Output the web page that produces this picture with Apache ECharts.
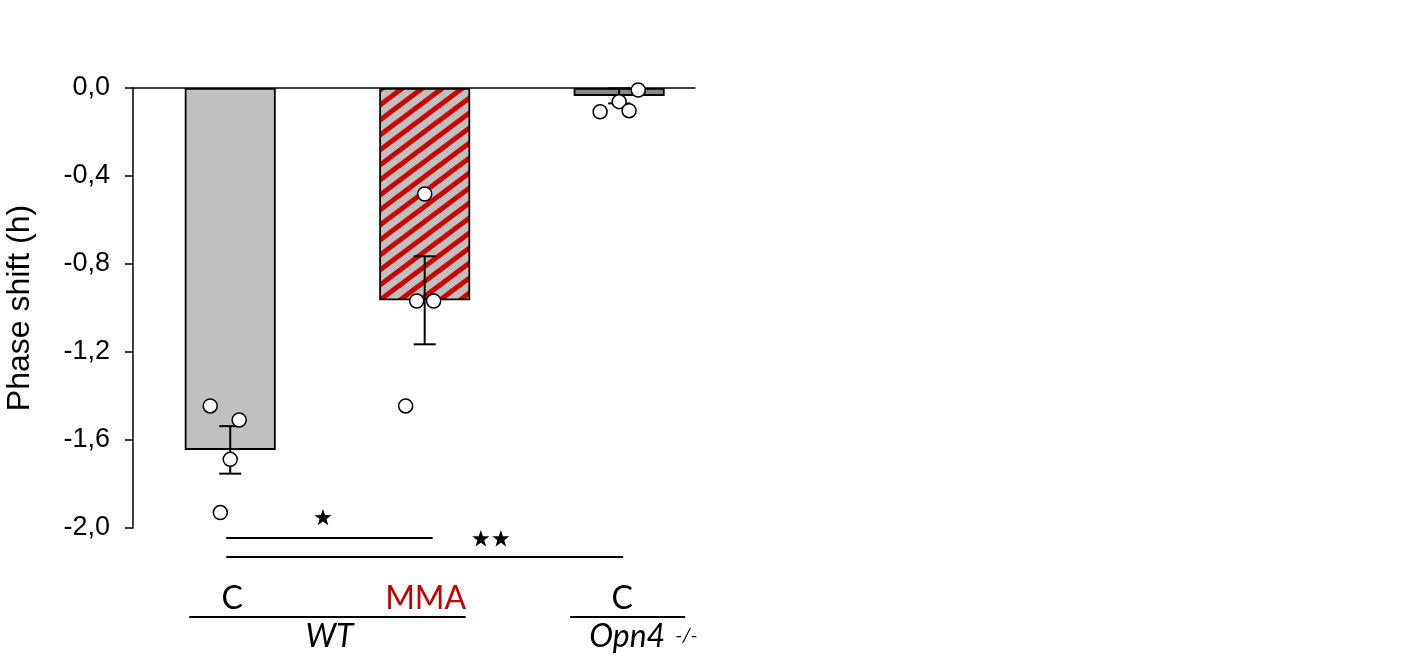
<!DOCTYPE html>
<html><head><meta charset="utf-8">
<script src="https://cdn.jsdelivr.net/npm/echarts@6/dist/echarts.min.js"></script>
<style>html,body{margin:0;padding:0;background:#fff}#c{width:1416px;height:660px}</style>
</head><body><div id="c"></div>
<script>
// ---------- data ----------
const groupLabels = ['C', 'MMA', 'C'];
const genotypeLabels = ['WT', 'Opn4'];
const genotypeSup = '-/-';
const groupX = [1, 2, 3];
const meanShift = [-1.645, -0.965, -0.036];
const semShift = [0.108, 0.200, 0.034];
const pointsWT_C = [-1.445, -1.509, -1.688, -1.930];
const pointsWT_MMA = [-0.482, -0.968, -0.968, -1.445];
const pointsOpn4_C = [-0.009, -0.062, -0.108, -0.103];
const jitterWT_C = [-0.103, 0.046, 0, -0.051];
const jitterWT_MMA = [0, -0.041, 0.046, -0.098];
const jitterOpn4_C = [0.098, 0, -0.098, 0.051];
const sigComparisons = [[1, 2], [1, 3]];
const sigLevels = [-2.045, -2.132];
const sigStars = [1, 2];
const yTicks = [0, -0.4, -0.8, -1.2, -1.6, -2.0];

// ---------- styles ----------
const RED = '#cc0000';
function hatch() {
  const w = 20, h = 15, c = document.createElement('canvas');
  c.width = w; c.height = h;
  const g = c.getContext('2d');
  g.fillStyle = '#c0c0c0'; g.fillRect(0, 0, w, h);
  g.strokeStyle = RED; g.lineWidth = 5;
  for (const k of [-2, -1, 0, 1, 2]) {
    g.beginPath(); g.moveTo(k * w - w, 2 * h); g.lineTo(k * w + 2 * w, -h); g.stroke();
  }
  return { image: c, repeat: 'repeat' };
}
const barColors = ['#c0c0c0', hatch(), '#888888'];

function starPoly(cx, cy, R) {
  const r = R * 0.40, pts = [];
  for (let i = 0; i < 10; i++) {
    const a = -Math.PI / 2 + i * Math.PI / 5, rr = i % 2 ? r : R;
    pts.push([cx + rr * Math.cos(a), cy + rr * Math.sin(a)]);
  }
  return pts;
}

const chart = echarts.init(document.getElementById('c'), null, { renderer: 'canvas' });

const barData = groupX.map((x, i) => ({ value: [x, meanShift[i]], itemStyle: { color: barColors[i] } }));
const errData = groupX.map((x, i) => [x, meanShift[i], semShift[i]]);
const pts = [];
[[pointsWT_C, jitterWT_C], [pointsWT_MMA, jitterWT_MMA], [pointsOpn4_C, jitterOpn4_C]].forEach(([vals, jit], gi) => {
  vals.forEach((v, j) => pts.push([groupX[gi] + jit[j], v]));
});
const sigData = sigComparisons.map((c, i) => [c[0], c[1], sigLevels[i], sigStars[i]]);
// star anchor (data coords) for annotation layout
const starAnchor = [[1.477, -1.95], [2.34, -2.046]];

const yMin = Math.min(...yTicks), yMax = Math.max(...yTicks);

chart.setOption({
  animation: false,
  grid: { left: 133, top: 88, right: 721, bottom: 132, containLabel: false },
  xAxis: {
    type: 'value', min: 0.5, max: 3.39,
    axisLine: { show: true, onZero: true, lineStyle: { color: '#000', width: 1.5 } },
    axisTick: { show: false }, axisLabel: { show: false }, splitLine: { show: false }
  },
  yAxis: {
    type: 'value', min: yMin, max: yMax, interval: 0.4,
    name: 'Phase shift (h)', nameLocation: 'middle', nameGap: 97,
    nameTextStyle: { fontSize: 32, color: '#000', fontFamily: 'Liberation Sans, Arial, sans-serif' },
    axisLine: { show: true, lineStyle: { color: '#000', width: 1.5 } },
    axisTick: { show: true, inside: false, length: 8, lineStyle: { color: '#000', width: 1.5 } },
    axisLabel: {
      margin: 23, fontSize: 27, color: '#000', fontFamily: 'Liberation Sans, Arial, sans-serif',
      formatter: v => (Math.abs(v) < 1e-9 ? '0,0' : v.toFixed(1).replace('.', ','))
    },
    splitLine: { show: false }
  },
  series: [
    {
      type: 'bar', data: barData, barWidth: 91, z: 2,
      itemStyle: { borderColor: '#000', borderWidth: 1.8 }
    },
    {
      type: 'custom', data: errData, z: 3, clip: false,
      renderItem: (params, api) => {
        const x = api.value(0), m = api.value(1), se = api.value(2);
        const a = api.coord([x, m + se]), b = api.coord([x, m - se]);
        const st = { stroke: '#000', lineWidth: 2 };
        return { type: 'group', children: [
          { type: 'line', shape: { x1: a[0], y1: a[1], x2: b[0], y2: b[1] }, style: st },
          { type: 'line', shape: { x1: a[0] - 11, y1: a[1], x2: a[0] + 11, y2: a[1] }, style: st },
          { type: 'line', shape: { x1: b[0] - 11, y1: b[1], x2: b[0] + 11, y2: b[1] }, style: st }
        ] };
      }
    },
    {
      type: 'scatter', data: pts, z: 4, symbolSize: 14, clip: false,
      itemStyle: { color: '#fff', borderColor: '#000', borderWidth: 1.5, opacity: 1 }
    },
    {
      type: 'custom', data: sigData, z: 4, clip: false,
      renderItem: (params, api) => {
        const x1 = api.value(0), x2 = api.value(1), y = api.value(2), n = api.value(3);
        const p1 = api.coord([x1, y]), p2 = api.coord([x2, y]);
        const i = params.dataIndex;
        const sa = api.coord(starAnchor[i]);
        const children = [{ type: 'line', shape: { x1: p1[0] - 4, y1: p1[1], x2: p2[0] + (i === 0 ? 8 : 4), y2: p2[1] }, style: { stroke: '#000', lineWidth: 2 } }];
        for (let k = 0; k < n; k++) {
          const cx = sa[0] + (k - (n - 1) / 2) * 20;
          children.push({ type: 'polygon', shape: { points: starPoly(cx, sa[1] + 1, 9) }, style: { fill: '#000' } });
        }
        return { type: 'group', children };
      }
    }
  ]
});

// bottom group / genotype labels, aligned to the group positions on the x scale
const px = groupX.map(x => chart.convertToPixel({ gridIndex: 0 }, [x, 0])[0]);
const lblFont = 'Lato, "Open Sans", sans-serif';
chart.setOption({
  graphic: [
    { type: 'text', x: px[0] + 2, y: 599, style: { text: groupLabels[0], fontSize: 32, fontFamily: lblFont, fill: '#000', align: 'center', verticalAlign: 'middle' } },
    { type: 'text', x: px[1] + 1, y: 599, style: { text: groupLabels[1], fontSize: 32, fontFamily: lblFont, fill: '#c00000', align: 'center', verticalAlign: 'middle' } },
    { type: 'text', x: px[2] + 3, y: 599, style: { text: groupLabels[2], fontSize: 32, fontFamily: lblFont, fill: '#000', align: 'center', verticalAlign: 'middle' } },
    { type: 'line', shape: { x1: px[0] - 41, y1: 617, x2: px[1] + 41, y2: 617 }, style: { stroke: '#000', lineWidth: 2 } },
    { type: 'line', shape: { x1: px[2] - 49, y1: 617, x2: px[2] + 66, y2: 617 }, style: { stroke: '#000', lineWidth: 2 } },
    { type: 'text', x: (px[0] + px[1]) / 2 + 2, y: 637, style: { text: genotypeLabels[0], fontSize: 32, fontStyle: 'italic', fontFamily: lblFont, fill: '#000', align: 'center', verticalAlign: 'middle' } },
    { type: 'text', x: px[2] + 8, y: 637, style: { text: genotypeLabels[1], fontSize: 32, fontStyle: 'italic', fontFamily: lblFont, fill: '#000', align: 'center', verticalAlign: 'middle' } },
    { type: 'text', x: px[2] + 56, y: 636, style: { text: genotypeSup, fontSize: 20, fontStyle: 'italic', fontFamily: lblFont, fill: '#000', align: 'left', verticalAlign: 'middle' } }
  ]
});
</script>
</body></html>
